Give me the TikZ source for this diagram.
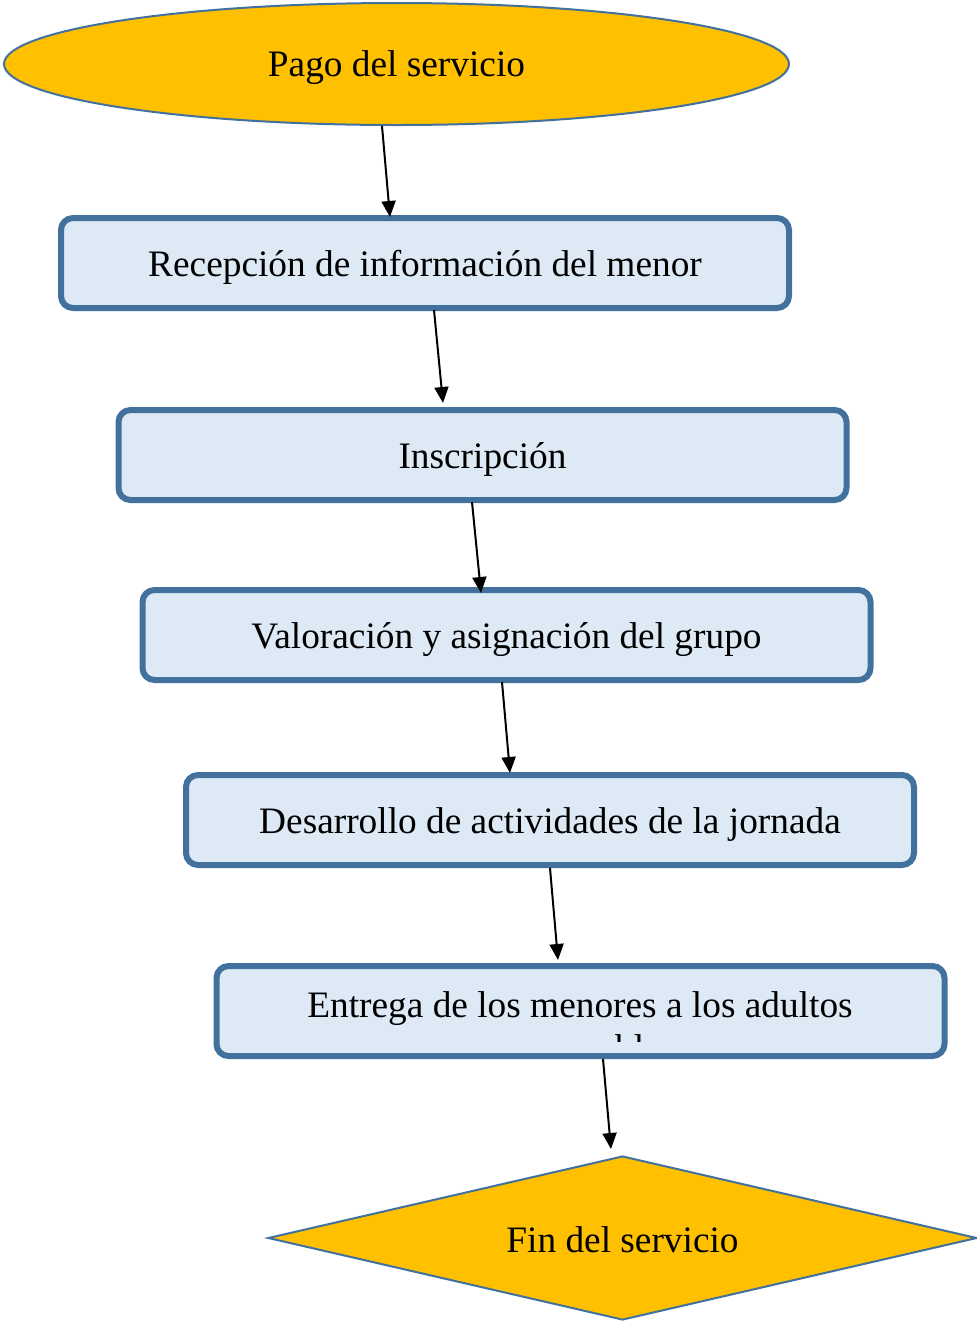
\documentclass[tikz,border=0pt]{standalone}
\usepackage{fontspec}
\setmainfont{Liberation Serif}
\usetikzlibrary{shapes.geometric,arrows.meta,calc}
\definecolor{gold}{HTML}{FFC000}
\definecolor{edge}{HTML}{41719C}
\definecolor{boxfill}{HTML}{DDEAF6}
\tikzset{
  txt/.style={font=\fontsize{28}{32}\selectfont, text=black},
  ell/.style={ellipse, draw=edge, fill=gold, line width=1.5pt, minimum width=588.75pt, minimum height=91.5pt, inner sep=0pt, txt, text height=25pt, text depth=6.5pt},
  stepbox/.style={rectangle, rounded corners=9pt, draw=edge, fill=boxfill, line width=4.5pt, minimum width=546pt, minimum height=67.5pt, inner sep=0pt, txt, text height=26pt, text depth=6.5pt},
  endshape/.style={diamond, aspect=4.32, draw=edge, fill=gold, line width=1.5pt, minimum width=531.75pt, minimum height=123pt, inner sep=0pt, txt, text height=22pt, text depth=0pt},
  arr/.style={line width=1.5pt, -{Triangle[length=12pt,width=10.5pt]}},
}
\begin{document}
\begin{tikzpicture}[x=0.75pt,y=-0.75pt]
\useasboundingbox (0,0) rectangle (977,1322);
\node[ell] (p) at (396.5,64) {Pago del servicio};
\node[stepbox] (b1) at (425,263) {Recepción de información del menor};
\node[stepbox] (b2) at (482.5,455) {Inscripción};
\node[stepbox] (b3) at (506.5,635) {Valoración y asignación del grupo};
\node[stepbox] (b4) at (550,820) {Desarrollo de actividades de la jornada};
\node[stepbox] (b5) at (580.5,1011) {};
\begin{scope}
  \clip (214,963) rectangle (947,1041);
  \node[txt, anchor=base] (e1) at (580,1017) {Entrega de los menores a los adultos};
  \node[txt, anchor=base] (e2) at (580,1060) {responsables};
\end{scope}
\node[endshape] (f) at (622.5,1238) {Fin del servicio};
\draw[arr] ($(p.south)+(-14.5,0)$) -- ($(b1.north)+(-35,2)$);
\draw[arr] ($(b1.south)+(9,-1)$) -- ($(b2.north)+(-39.5,-4)$);
\draw[arr] ($(b2.south)+(-10.5,-1)$) -- ($(b3.north)+(-25.5,6)$);
\draw[arr] ($(b3.south)+(-4.5,-1)$) -- ($(b4.north)+(-40,1)$);
\draw[arr] ($(b4.south)+(0,0)$) -- ($(b5.north)+(-22.5,-3)$);
\draw[arr] ($(b5.south)+(22.5,0)$) -- ($(f.north)+(-11.5,-6)$);
\end{tikzpicture}
\end{document}
